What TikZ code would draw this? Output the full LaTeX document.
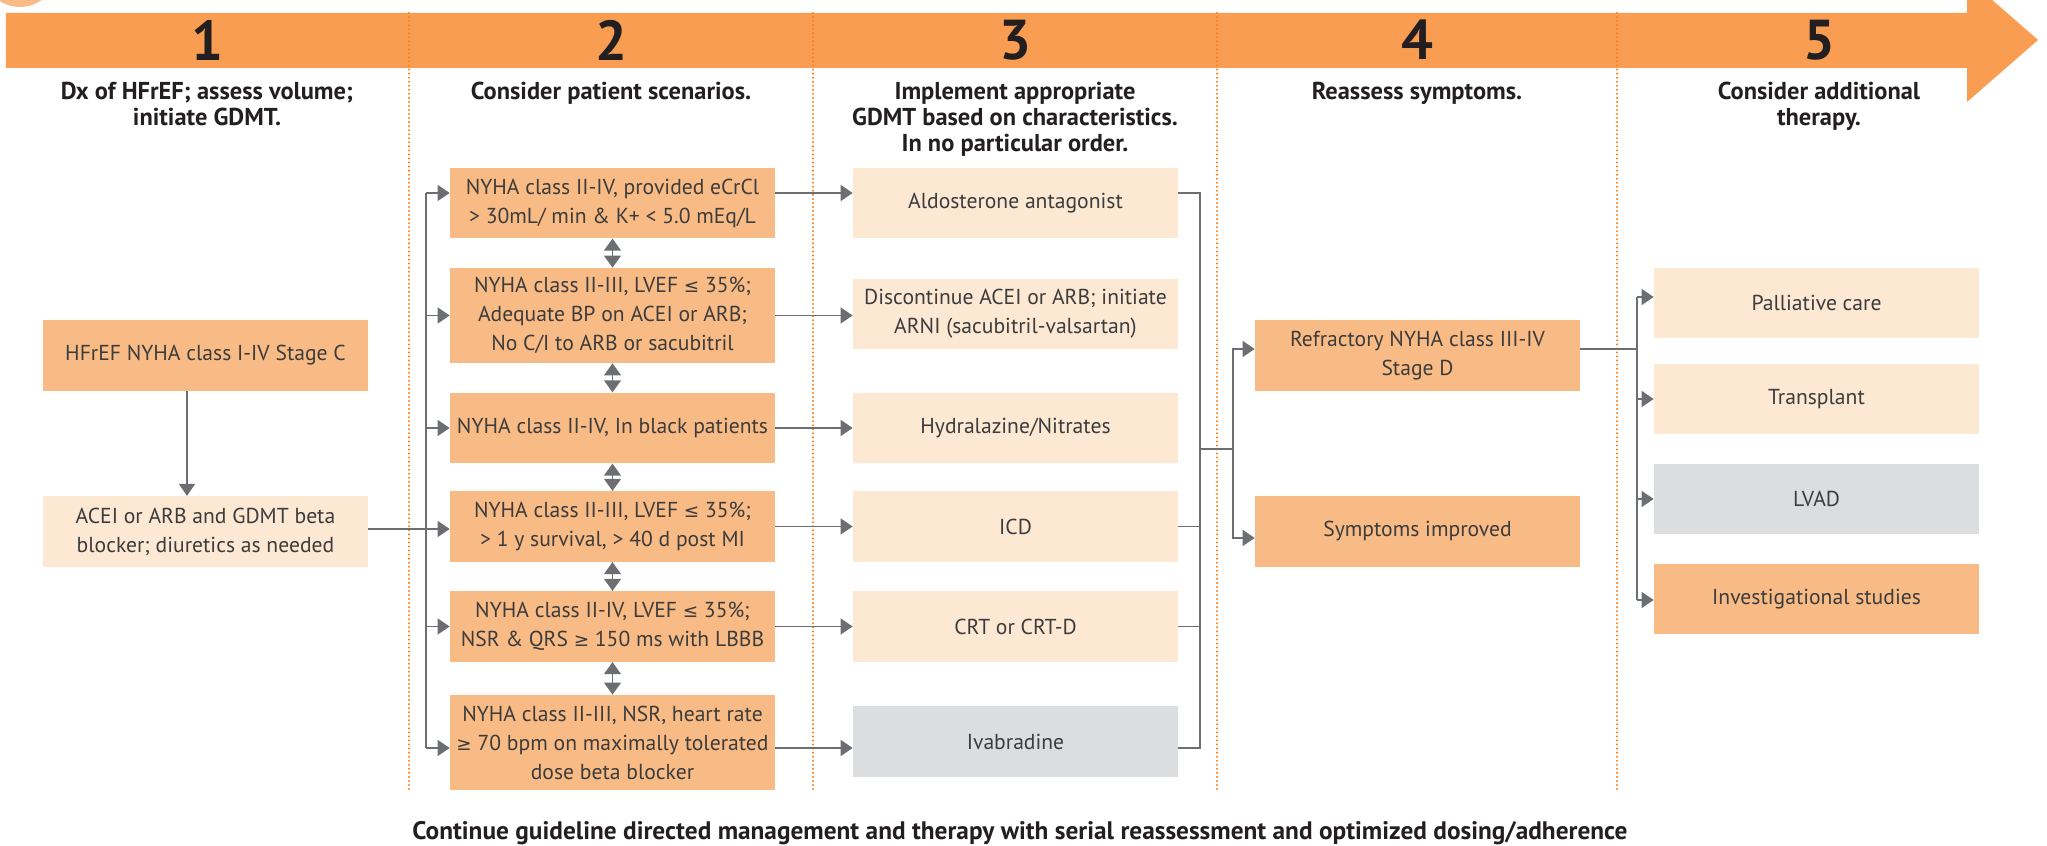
\documentclass[tikz,border=0pt]{standalone}
\usepackage{fontspec}
\setmainfont{PT Sans}
\newfontfamily\relfont[Scale=0.85]{DejaVu Sans}
\usetikzlibrary{positioning, calc, arrows.meta, backgrounds}

\definecolor{barorange}{HTML}{F89D52}
\definecolor{midorange}{HTML}{F9BB85}
\definecolor{lightorange}{HTML}{FDE8D4}
\definecolor{boxgrey}{HTML}{DCDDDF}
\definecolor{dotorange}{HTML}{F58220}
\definecolor{linegrey}{HTML}{6D6E71}
\definecolor{textdark}{HTML}{3C3C3C}
\definecolor{headdark}{HTML}{231F20}

\newcommand{\lesym}{{\relfont ≤}}
\newcommand{\gesym}{{\relfont ≥}}

\begin{document}
\begin{tikzpicture}[x=2cm, y=2cm,
    block/.style={minimum width=6.5cm, minimum height=1.41cm, align=center, inner sep=0pt, text=textdark, font=\fontsize{12.3}{16.5}\selectfont},
    midbox/.style={block, fill=midorange},
    lightbox/.style={block, fill=lightorange},
    greybox/.style={block, fill=boxgrey},
    tallbox/.style={minimum height=1.9cm},
    arrow/.style={-{Triangle[length=6.8pt, width=9pt]}, linegrey, line width=1pt},
    link/.style={linegrey, line width=1pt},
    twoway/.style={{Triangle[length=6.8pt, width=9.5pt]}-{Triangle[length=6.8pt, width=9.5pt]}, linegrey, line width=1pt},
    stepnum/.style={font=\fontsize{32}{32}\selectfont\bfseries, text=headdark},
    heading/.style={font=\fontsize{13.9}{14.8}\selectfont\bfseries, text=headdark, align=center, anchor=north, inner sep=0pt},
    divider/.style={dotorange, line width=1.3pt, line cap=round, dash pattern=on 0pt off 2.3pt}
]

% ----------------- header arrow -----------------
\useasboundingbox (0, 0) rectangle (20.47, 8.46);
\begin{scope}
    \clip (0, 0) rectangle (20.47, 8.46);
    \fill[midorange] (0.20, 8.76) circle (0.37);
    \fill[barorange] (0.06, 8.33) -- (19.67, 8.33) -- (19.67, 8.68) -- (20.38, 8.06)
        -- (19.67, 7.44) -- (19.67, 7.78) -- (0.06, 7.78) -- cycle;
\end{scope}

% column dividers
\foreach \x in {4.09, 8.13, 12.17, 16.17}
    \draw[divider] (\x, 8.33) -- (\x, 0.54);

% step numbers and headings
\node[stepnum] (n1) at (2.07, 8.06)  {1};
\node[stepnum] (n2) at (6.11, 8.06)  {2};
\node[stepnum] (n3) at (10.15, 8.06) {3};
\node[stepnum] (n4) at (14.17, 8.06) {4};
\node[stepnum] (n5) at (18.19, 8.06) {5};

\node[heading] (h1) at (2.07, 7.64)  {Dx of HFrEF; assess volume;\\ initiate GDMT.};
\node[heading] (h2) at (6.11, 7.64)  {Consider patient scenarios.};
\node[heading] (h3) at (10.15, 7.64) {Implement appropriate\\ GDMT based on characteristics.\\ In no particular order.};
\node[heading] (h4) at (14.17, 7.64) {Reassess symptoms.};
\node[heading] (h5) at (18.19, 7.64) {Consider additional\\ therapy.};

% ----------------- column 1 -----------------
\node[midbox]   (hf)   at (2.055, 4.905) {HFrEF NYHA class I-IV Stage C};
\node[lightbox] (acei) at (2.055, 3.145) {ACEI or ARB and GDMT beta\\ blocker; diuretics as needed};

% ----------------- column 2 -----------------
\node[midbox]          (s1) at (6.125, 6.43)  {NYHA class II-IV, provided eCrCl\\ > 30mL/ min \& K+ < 5.0 mEq/L};
\node[midbox, tallbox] (s2) at (6.125, 5.305) {NYHA class II-III, LVEF \lesym{} 35\%;\\ Adequate BP on ACEI or ARB;\\ No C/I to ARB or sacubitril};
\node[midbox]          (s3) at (6.125, 4.18)  {NYHA class II-IV, In black patients};
\node[midbox]          (s4) at (6.125, 3.195) {NYHA class II-III, LVEF \lesym{} 35\%;\\ > 1 y survival, > 40 d post MI};
\node[midbox]          (s5) at (6.125, 2.195) {NYHA class II-IV, LVEF \lesym{} 35\%;\\ NSR \& QRS \gesym{} 150 ms with LBBB};
\node[midbox, tallbox] (s6) at (6.125, 1.035) {NYHA class II-III, NSR, heart rate\\ \gesym{} 70 bpm on maximally tolerated\\ dose beta blocker};

% ----------------- column 3 -----------------
\node[lightbox] (t1) at (10.155, 6.43)  {Aldosterone antagonist};
\node[lightbox] (t2) at (10.155, 5.32)  {Discontinue ACEI or ARB; initiate\\ ARNI (sacubitril-valsartan)};
\node[lightbox] (t3) at (10.155, 4.18)  {Hydralazine/Nitrates};
\node[lightbox] (t4) at (10.155, 3.195) {ICD};
\node[lightbox] (t5) at (10.155, 2.195) {CRT or CRT-D};
\node[greybox]  (t6) at (10.155, 1.045) {Ivabradine};

% ----------------- column 4 -----------------
\node[midbox] (r1) at (14.175, 4.905) {Refractory NYHA class III-IV\\ Stage D};
\node[midbox] (r2) at (14.175, 3.145) {Symptoms improved};

% ----------------- column 5 -----------------
\node[lightbox] (p1) at (18.165, 5.43) {Palliative care};
\node[lightbox] (p2) at (18.165, 4.47) {Transplant};
\node[greybox]  (p3) at (18.165, 3.47) {LVAD};
\node[midbox]   (p4) at (18.165, 2.47) {Investigational studies};

% ----------------- connectors -----------------
\coordinate (bustop) at (4.26, 6.53);
\coordinate (busbot) at (4.26, 0.98);
\coordinate (coltop) at (12.00, 6.53);
\coordinate (colbot) at (12.00, 0.98);
\coordinate (split)  at (12.33, 3.97);
\coordinate (fantop) at (16.37, 5.49);
\coordinate (fanbot) at (16.37, 2.46);

\draw[arrow] ($(hf.south)+(-0.185, 0)$) -- ($(acei.north)+(-0.185, 0)$);
\draw[arrow] ([yshift=0.05cm]acei.east) -- ([yshift=0.05cm]acei.east -| s4.west);

% scenario bus
\draw[link] (bustop) -- (busbot);
\draw[arrow] (bustop) -- (bustop -| s1.west);
\foreach \s in {s2, s3, s5}
    \draw[arrow] (\s.west -| bustop) -- (\s.west);
\draw[arrow] (busbot) -- (busbot -| s6.west);

\foreach \a/\b in {s1/s2, s2/s3, s3/s4, s4/s5, s5/s6}
    \draw[twoway] (\a.south) -- (\b.north);

% scenario -> therapy
\draw[arrow] (s1.east |- bustop) -- (t1.west |- bustop);
\foreach \i in {2, 3, 4, 5}
    \draw[arrow] (s\i.east) -- (s\i.east -| t\i.west);
\draw[arrow] (s6.east |- busbot) -- (t6.west |- busbot);

% therapy -> reassess
\draw[link] (t1.east |- coltop) -- (coltop) -- (colbot) -- (t6.east |- colbot);
\draw[link] (t4.east) -- (t4.east -| coltop);
\draw[link] (t5.east) -- (t5.east -| coltop);
\draw[link] (coltop |- split) -- (split);
\draw[arrow] (split) |- ([yshift=0.13cm]r1.west);
\draw[arrow] (split) |- ([yshift=-0.13cm]r2.west);

% reassess -> additional therapy
\draw[link] ([yshift=0.13cm]r1.east) -- ([yshift=0.13cm]r1.east -| fantop);
\draw[link] (fantop) -- (fanbot);
\draw[arrow] (fantop) -- (fantop -| p1.west);
\draw[arrow] (p2.west -| fantop) -- (p2.west);
\draw[arrow] (p3.west -| fantop) -- (p3.west);
\draw[arrow] (fanbot) -- (fanbot -| p4.west);

% footer
\node[font=\fontsize{14.4}{16}\selectfont\bfseries, text=headdark] (note) at (10.2, 0.13)
    {Continue guideline directed management and therapy with serial reassessment and optimized dosing/adherence};

\end{tikzpicture}
\end{document}
